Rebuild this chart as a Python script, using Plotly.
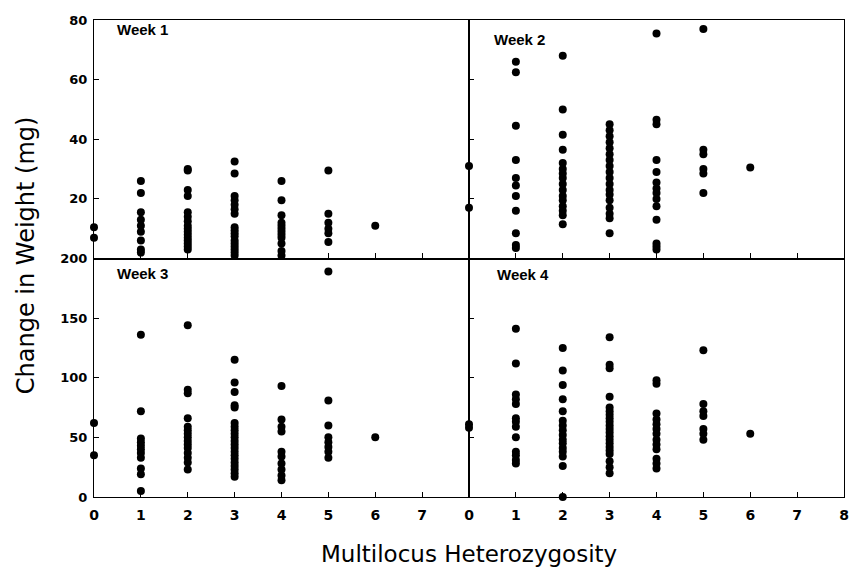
import plotly.graph_objects as go
from plotly.subplots import make_subplots

het_classes = [0, 1, 2, 3, 4, 5, 6]

week1_gain = [
    [10.5, 7],
    [26, 22, 15.5, 13, 11, 9, 6, 3, 2],
    [30, 29.5, 23, 21, 15.5, 14, 12.5, 11, 10, 9, 8, 7, 6, 5, 4, 3],
    [32.5, 28.5, 21, 19.5, 18, 16.5, 15, 10.5, 9.5, 8.5, 7.5, 6, 5, 4, 3, 2, 1],
    [26, 19.5, 14.5, 12, 11, 10, 9, 8, 7, 5, 2.5, 1],
    [29.5, 15, 12, 10, 8.5, 5.5],
    [11],
]
week2_gain = [
    [31, 17],
    [66, 62.5, 44.5, 33, 27, 24.5, 21, 16, 8.5, 4.5, 3.5],
    [68, 50, 41.5, 36.5, 32, 30, 28.5, 27, 25, 23, 21, 19.5, 17.5, 16, 14.5, 11.5],
    [45, 43, 41, 39, 37, 35, 33, 31, 29, 27, 25, 23, 21.5, 19.5, 17, 15, 13.5, 8.5],
    [75.5, 46.5, 45, 33, 29, 25.5, 23.5, 22, 20, 17.5, 13, 5, 4, 3],
    [77, 36.5, 35, 30, 28.5, 22],
    [30.5],
]
week3_gain = [
    [62, 35],
    [136, 72, 49, 46, 43, 40, 37, 33, 24, 19, 5],
    [144, 90, 87, 66, 59, 56, 53, 50, 47, 44, 41, 37, 33, 29, 23],
    [115, 96, 88, 77, 75, 62, 59, 56, 53, 50, 47, 44, 41, 38, 35, 32, 29, 26, 23, 20, 17],
    [93, 65, 59, 55, 38, 34, 28, 23, 18, 14],
    [189, 81, 60, 50, 46, 42, 38, 33],
    [50],
]
week4_gain = [
    [61, 58],
    [141, 112, 86, 82, 78, 66, 63, 59, 50, 38, 35, 31, 28],
    [125, 106, 94, 82, 72, 64, 60, 56, 52, 48, 45, 41, 38, 34, 26, 0],
    [134, 111, 108, 84, 75, 72, 69, 66, 63, 60, 57, 54, 51, 48, 45, 42, 39, 36, 30, 25, 20],
    [98, 95, 70, 65, 61, 57, 53, 48, 44, 40, 32, 28, 24],
    [123, 78, 72, 68, 57, 53, 48],
    [53],
]

week_labels = ["Week 1", "Week 2", "Week 3", "Week 4"]
top_yticks = [20, 40, 60, 80]
bottom_yticks = [0, 50, 100, 150, 200]
left_xticks = [0, 1, 2, 3, 4, 5, 6, 7]
right_xticks = [0, 1, 2, 3, 4, 5, 6, 7, 8]
top_xticks = [1, 2, 3, 4, 5, 6, 7]

x_title = "Multilocus Heterozygosity"
y_title = "Change in Weight (mg)"

fig = make_subplots(rows=2, cols=2, horizontal_spacing=0, vertical_spacing=0)

weeks = [week1_gain, week2_gain, week3_gain, week4_gain]
positions = [(1, 1), (1, 2), (2, 1), (2, 2)]
for data, (r, c) in zip(weeks, positions):
    xs, ys = [], []
    for h, vals in zip(het_classes, data):
        xs += [h] * len(vals)
        ys += vals
    fig.add_trace(go.Scatter(x=xs, y=ys, mode="markers", cliponaxis=False,
                             marker=dict(color="black", size=8),
                             showlegend=False), row=r, col=c)

tick_font = dict(family="DejaVu Sans", size=13, color="black", weight="bold")
axis_common = dict(showline=True, linecolor="black", linewidth=1.2, mirror=True,
                   ticks="inside", ticklen=5, tickwidth=1, tickcolor="black",
                   showgrid=False, zeroline=False, ticklabeloverflow="allow")

for r in (1, 2):
    for c in (1, 2):
        if r == 1:
            fig.update_xaxes(range=[0, 8], tickvals=top_xticks, showticklabels=False,
                             row=r, col=c, **axis_common)
            fig.update_yaxes(range=[0, 80], tickvals=top_yticks, row=r, col=c,
                             showticklabels=(c == 1), tickfont=tick_font,
                             ticklabelstandoff=3, **axis_common)
        else:
            xt = left_xticks if c == 1 else right_xticks
            fig.update_xaxes(range=[0, 8], tickvals=xt, row=r, col=c,
                             tickfont=dict(tick_font, size=14), ticklabelstandoff=5,
                             **axis_common)
            fig.update_yaxes(range=[0, 200], tickvals=bottom_yticks, row=r, col=c,
                             showticklabels=(c == 1), tickfont=tick_font,
                             ticklabelstandoff=3, **axis_common)

label_pos = [("x domain", "y domain", 0.056, 0.96),
             ("x2 domain", "y2 domain", 0.061, 0.92),
             ("x3 domain", "y3 domain", 0.056, 0.937),
             ("x4 domain", "y4 domain", 0.069, 0.931)]
for text, (xr, yr, px, py) in zip(week_labels, label_pos):
    fig.add_annotation(text=text, xref=xr, yref=yr, x=px, y=py,
                       xanchor="left", yanchor="middle", showarrow=False,
                       font=dict(family="Liberation Sans", size=15, color="black",
                                 weight="bold"))

fig.add_annotation(text=x_title, xref="paper", yref="paper", x=0.5, y=-0.119,
                   xanchor="center", yanchor="middle", showarrow=False,
                   font=dict(family="DejaVu Sans", size=23, color="black"))
fig.add_annotation(text=y_title, xref="paper", yref="paper", x=-0.0913, y=0.506,
                   xanchor="center", yanchor="middle", showarrow=False, textangle=-90,
                   font=dict(family="DejaVu Sans", size=24, color="black"))

fig.update_layout(width=853, height=573, margin=dict(l=94, r=4, t=20, b=76),
                  plot_bgcolor="white", paper_bgcolor="white")

fig.write_html("out.html")
